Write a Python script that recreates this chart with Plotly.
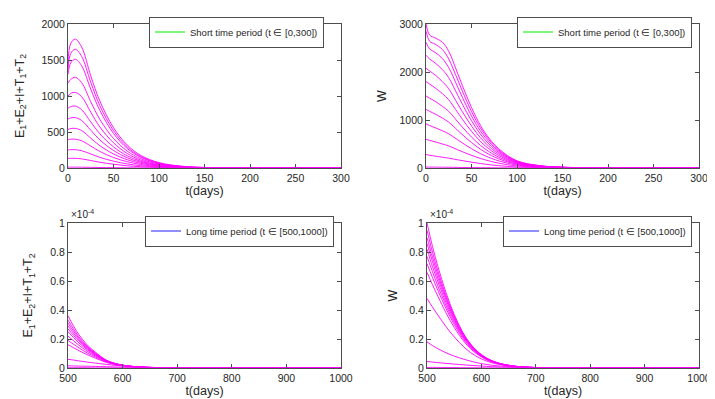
import plotly.graph_objects as go

# ---- data ----
# top-left: E1+E2+I+T1+T2, short period
T_SHORT_E = [0, 3, 8, 15, 25, 35, 50, 65, 80, 100, 125, 150, 200, 300]
E01 = [1450, 1730, 1790, 1680, 1280, 930, 560, 320, 175, 75, 25, 8, 1, 0]
E02 = [1370, 1590, 1650, 1550, 1190, 865, 520, 295, 160, 68, 22, 7, 1, 0]
E03 = [1300, 1460, 1510, 1420, 1095, 800, 480, 272, 148, 62, 20, 6, 1, 0]
E04 = [1180, 1230, 1260, 1185, 920, 675, 410, 235, 128, 54, 17, 5, 1, 0]
E05 = [1000, 1035, 1050, 990, 775, 570, 350, 202, 110, 47, 15, 5, 0, 0]
E06 = [830, 852, 860, 810, 640, 475, 293, 170, 94, 40, 13, 4, 0, 0]
E07 = [680, 696, 700, 660, 525, 390, 243, 142, 79, 34, 11, 4, 0, 0]
E08 = [535, 548, 550, 520, 415, 310, 195, 115, 64, 28, 9, 3, 0, 0]
E09 = [392, 400, 400, 378, 305, 230, 146, 87, 49, 21, 7, 2, 0, 0]
E10 = [250, 255, 254, 240, 195, 148, 95, 57, 32, 14, 5, 2, 0, 0]
E11 = [132, 135, 134, 127, 104, 80, 52, 31, 18, 8, 3, 1, 0, 0]
E12 = [12, 12, 12, 11, 9, 7, 5, 3, 2, 1, 0, 0, 0, 0]

# top-right: W, short period
T_SHORT_W = [0, 4, 10, 18, 25, 35, 45, 55, 65, 80, 100, 125, 150, 200, 300]
W01 = [3000, 2770, 2710, 2620, 2430, 1960, 1480, 1060, 730, 400, 150, 50, 17, 2, 0]
W02 = [2850, 2640, 2580, 2470, 2270, 1830, 1380, 990, 690, 375, 142, 47, 16, 2, 0]
W03 = [2620, 2480, 2410, 2280, 2090, 1680, 1270, 915, 640, 350, 133, 45, 15, 2, 0]
W04 = [2350, 2270, 2190, 2050, 1880, 1510, 1150, 835, 585, 322, 124, 42, 14, 2, 0]
W05 = [2080, 2020, 1940, 1800, 1650, 1330, 1020, 745, 525, 292, 113, 39, 13, 2, 0]
W06 = [1800, 1750, 1670, 1550, 1420, 1150, 885, 652, 462, 260, 102, 35, 12, 1, 0]
W07 = [1500, 1455, 1390, 1285, 1180, 960, 745, 553, 395, 225, 90, 31, 11, 1, 0]
W08 = [1220, 1180, 1125, 1040, 955, 780, 610, 457, 330, 190, 77, 27, 9, 1, 0]
W09 = [920, 885, 840, 775, 712, 585, 460, 348, 254, 148, 61, 22, 8, 1, 0]
W10 = [600, 575, 545, 500, 460, 378, 300, 230, 170, 100, 42, 15, 5, 1, 0]
W11 = [280, 265, 248, 225, 205, 170, 137, 107, 80, 48, 21, 8, 3, 0, 0]
W12 = [20, 19, 18, 16, 15, 12, 10, 8, 6, 4, 2, 1, 0, 0, 0]

# bottom row, long period (values in units of 1e-4)
T_LONG = [500, 510, 520, 535, 550, 570, 590, 610, 630, 660, 700, 800, 1000]
L01 = [0.36, 0.29, 0.23, 0.16, 0.11, 0.055, 0.028, 0.014, 0.007, 0.003, 0.001, 0, 0]
L02 = [0.33, 0.27, 0.215, 0.15, 0.104, 0.053, 0.027, 0.014, 0.007, 0.003, 0.001, 0, 0]
L03 = [0.31, 0.255, 0.205, 0.145, 0.1, 0.052, 0.027, 0.014, 0.007, 0.003, 0.001, 0, 0]
L04 = [0.29, 0.24, 0.195, 0.14, 0.097, 0.051, 0.026, 0.014, 0.007, 0.003, 0.001, 0, 0]
L05 = [0.27, 0.225, 0.185, 0.133, 0.094, 0.05, 0.026, 0.014, 0.007, 0.003, 0.001, 0, 0]
L06 = [0.25, 0.21, 0.173, 0.126, 0.09, 0.048, 0.025, 0.013, 0.007, 0.003, 0.001, 0, 0]
L07 = [0.22, 0.188, 0.157, 0.116, 0.083, 0.045, 0.024, 0.013, 0.007, 0.003, 0.001, 0, 0]
L08 = [0.19, 0.164, 0.139, 0.104, 0.076, 0.042, 0.023, 0.012, 0.006, 0.002, 0.001, 0, 0]
L09 = [0.16, 0.14, 0.12, 0.092, 0.068, 0.039, 0.021, 0.011, 0.006, 0.002, 0.001, 0, 0]
L10 = [0.06, 0.055, 0.049, 0.041, 0.034, 0.025, 0.017, 0.011, 0.007, 0.003, 0.001, 0, 0]
L11 = [0.015, 0.014, 0.013, 0.012, 0.011, 0.009, 0.007, 0.005, 0.004, 0.002, 0.001, 0, 0]
L12 = [0.002, 0.002, 0.002, 0.002, 0.001, 0.001, 0.001, 0.001, 0, 0, 0, 0, 0]

WL01 = [1.0, 0.84, 0.70, 0.52, 0.37, 0.22, 0.125, 0.068, 0.036, 0.013, 0.003, 0, 0]
WL02 = [0.95, 0.80, 0.67, 0.50, 0.36, 0.215, 0.122, 0.066, 0.035, 0.013, 0.003, 0, 0]
WL03 = [0.90, 0.765, 0.645, 0.485, 0.35, 0.21, 0.12, 0.065, 0.035, 0.013, 0.003, 0, 0]
WL04 = [0.86, 0.735, 0.62, 0.47, 0.34, 0.205, 0.118, 0.064, 0.034, 0.012, 0.003, 0, 0]
WL05 = [0.82, 0.70, 0.595, 0.45, 0.33, 0.2, 0.115, 0.063, 0.034, 0.012, 0.003, 0, 0]
WL06 = [0.77, 0.665, 0.565, 0.43, 0.315, 0.192, 0.111, 0.061, 0.033, 0.012, 0.003, 0, 0]
WL07 = [0.72, 0.625, 0.535, 0.41, 0.3, 0.184, 0.107, 0.059, 0.032, 0.012, 0.003, 0, 0]
WL08 = [0.66, 0.575, 0.495, 0.38, 0.28, 0.173, 0.101, 0.056, 0.03, 0.011, 0.003, 0, 0]
WL09 = [0.48, 0.42, 0.365, 0.285, 0.215, 0.137, 0.082, 0.047, 0.026, 0.01, 0.003, 0, 0]
WL10 = [0.18, 0.155, 0.133, 0.105, 0.082, 0.058, 0.038, 0.024, 0.015, 0.007, 0.002, 0, 0]
WL11 = [0.045, 0.041, 0.037, 0.032, 0.027, 0.021, 0.016, 0.011, 0.008, 0.004, 0.001, 0, 0]
WL12 = [0.004, 0.004, 0.004, 0.003, 0.003, 0.002, 0.002, 0.001, 0.001, 0, 0, 0, 0]

SHORT_LABEL = "Short time period (t \u2208 [0,300])"
LONG_LABEL = "Long time period (t \u2208 [500,1000])"
Y_LABEL_E = "E<sub>1</sub>+E<sub>2</sub>+I+T<sub>1</sub>+T<sub>2</sub>"
Y_LABEL_W = "W"

E_CURVES = [E01, E02, E03, E04, E05, E06, E07, E08, E09, E10, E11, E12]
W_CURVES = [W01, W02, W03, W04, W05, W06, W07, W08, W09, W10, W11, W12]
L_CURVES = [L01, L02, L03, L04, L05, L06, L07, L08, L09, L10, L11, L12]
WL_CURVES = [WL01, WL02, WL03, WL04, WL05, WL06, WL07, WL08, WL09, WL10, WL11, WL12]

W_PX, H_PX = 715, 399
MAGENTA = '#ff00ff'
AXIS_GREY = '#4d4d4d'
FONT = 'Liberation Sans, Arial, sans-serif'


def px_x(p):
    return p / W_PX


def px_y(p):
    return 1 - p / H_PX


fig = go.Figure()

# panel: (suffix, time grid, curves, legend label, legend colour, legend name)
panels = [
    ('', T_SHORT_E, E_CURVES, SHORT_LABEL, '#00ee00', 'legend'),
    ('2', T_SHORT_W, W_CURVES, SHORT_LABEL, '#00ee00', 'legend2'),
    ('3', T_LONG, L_CURVES, LONG_LABEL, '#2020ff', 'legend3'),
    ('4', T_LONG, WL_CURVES, LONG_LABEL, '#2020ff', 'legend4'),
]

for suffix, t, curves, label, lcol, leg in panels:
    xa, ya = 'x' + suffix, 'y' + suffix
    for ys in curves:
        fig.add_trace(go.Scatter(
            x=t, y=ys, mode='lines', xaxis=xa, yaxis=ya,
            line=dict(color=MAGENTA, width=0.9, shape='spline'),
            showlegend=False, hoverinfo='skip'
        ))
    # legend entry only
    fig.add_trace(go.Scatter(
        x=[None], y=[None], mode='lines', xaxis=xa, yaxis=ya,
        name=label, legend=leg, showlegend=True,
        line=dict(color=lcol, width=1.2)
    ))

axis_common = dict(
    showline=True, linecolor=AXIS_GREY, linewidth=1, mirror='ticks',
    ticks='inside', ticklen=4, tickcolor=AXIS_GREY, showgrid=False,
    zeroline=False, automargin=False,
    tickfont=dict(family=FONT, size=10.5, color='#262626'),
    title_font=dict(family=FONT, size=12.5, color='#262626'),
)

# plot areas in pixels: (left, right, top, bottom)
boxes = [(60, 333, 16, 160), (418, 691, 16, 160),
         (60, 333, 215, 360), (419, 691, 215, 360)]
x_ranges = [[0, 300], [0, 300], [500, 1000], [500, 1000]]
y_ranges = [[0, 2000], [0, 3000], [0, 1], [0, 1]]
y_dticks = [500, 1000, 0.2, 0.2]
y_titles = [Y_LABEL_E, Y_LABEL_W, Y_LABEL_E, Y_LABEL_W]
y_standoff = [14, 10, 14, 8]

layout = {}
for i, (l, r, t, b) in enumerate(boxes):
    sfx = '' if i == 0 else str(i + 1)
    anchor = str(i + 1) if i else ''
    layout['xaxis' + sfx] = dict(
        axis_common, domain=[px_x(l), px_x(r)], range=x_ranges[i],
        dtick=50 if i < 2 else 100, anchor='y' + anchor,
        title=dict(text='t(days)', standoff=2),
    )
    layout['yaxis' + sfx] = dict(
        axis_common, domain=[px_y(b), px_y(t)], range=y_ranges[i],
        dtick=y_dticks[i], anchor='x' + anchor,
        title=dict(text=y_titles[i], standoff=y_standoff[i]),
    )

legend_common = dict(
    bgcolor='white', bordercolor=AXIS_GREY, borderwidth=1,
    font=dict(family=FONT, size=9.5, color='#262626'),
    xanchor='right', yanchor='middle', itemwidth=30,
)
layout['legend'] = dict(legend_common, x=px_x(316), y=px_y(24))
layout['legend2'] = dict(legend_common, x=px_x(684), y=px_y(24))
layout['legend3'] = dict(legend_common, x=px_x(326), y=px_y(223))
layout['legend4'] = dict(legend_common, x=px_x(684), y=px_y(223))

fig.update_layout(
    **layout,
    width=W_PX, height=H_PX,
    margin=dict(l=0, r=0, t=0, b=0),
    template='none',
    paper_bgcolor='white', plot_bgcolor='white',
    font=dict(family=FONT, color='#262626'),
)

# MATLAB-style exponent label above the long-period panels
for left in (60, 419):
    fig.add_annotation(
        text='\u00d710<sup>-4</sup>', xref='paper', yref='paper',
        x=px_x(left + 1), y=px_y(214), xanchor='left', yanchor='bottom',
        showarrow=False, font=dict(family=FONT, size=10, color='#262626'),
    )

fig.write_html("out.html")
